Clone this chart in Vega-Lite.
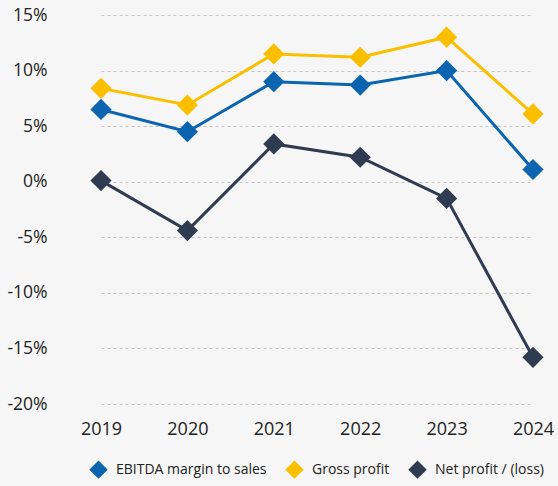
{
  "$schema": "https://vega.github.io/schema/vega-lite/v6.json",
  "width": 500,
  "height": 389,
  "autosize": {"type": "none"},
  "padding": {"left": 58, "top": 15, "right": 0, "bottom": 82},
  "background": "#f6f6f6",
  "config": {
    "view": {"stroke": null},
    "font": "Open Sans",
    "axis": {"labelFont": "Open Sans", "labelColor": "#222222"},
    "legend": {"labelFont": "Open Sans", "labelColor": "#222222"}
  },
  "data": {
    "values": [
      {"year": "2019", "series": "EBITDA margin to sales", "value": 6.5},
      {"year": "2020", "series": "EBITDA margin to sales", "value": 4.5},
      {"year": "2021", "series": "EBITDA margin to sales", "value": 9.0},
      {"year": "2022", "series": "EBITDA margin to sales", "value": 8.7},
      {"year": "2023", "series": "EBITDA margin to sales", "value": 10.0},
      {"year": "2024", "series": "EBITDA margin to sales", "value": 1.1},
      {"year": "2019", "series": "Gross profit", "value": 8.4},
      {"year": "2020", "series": "Gross profit", "value": 6.9},
      {"year": "2021", "series": "Gross profit", "value": 11.5},
      {"year": "2022", "series": "Gross profit", "value": 11.2},
      {"year": "2023", "series": "Gross profit", "value": 13.0},
      {"year": "2024", "series": "Gross profit", "value": 6.1},
      {"year": "2019", "series": "Net profit / (loss)", "value": 0.1},
      {"year": "2020", "series": "Net profit / (loss)", "value": -4.4},
      {"year": "2021", "series": "Net profit / (loss)", "value": 3.4},
      {"year": "2022", "series": "Net profit / (loss)", "value": 2.2},
      {"year": "2023", "series": "Net profit / (loss)", "value": -1.5},
      {"year": "2024", "series": "Net profit / (loss)", "value": -15.8}
    ]
  },
  "encoding": {
    "x": {
      "field": "year",
      "type": "ordinal",
      "scale": {"type": "point", "range": [43, 475], "padding": 0},
      "axis": {
        "title": null,
        "labelAngle": 0,
        "labelFontSize": 18,
        "labelPadding": 16,
        "ticks": false,
        "domain": false,
        "grid": false
      }
    },
    "y": {
      "field": "value",
      "type": "quantitative",
      "scale": {"domain": [-20, 15], "nice": false, "zero": false},
      "axis": {
        "title": null,
        "values": [-20, -15, -10, -5, 0, 5, 10, 15],
        "labelExpr": "datum.value + '%'",
        "labelFontSize": 17.5,
        "labelPadding": 11,
        "ticks": false,
        "domain": false,
        "grid": true,
        "gridColor": "#c4c4c4",
        "gridDash": [3, 3],
        "gridWidth": 1
      }
    },
    "color": {
      "field": "series",
      "type": "nominal",
      "scale": {
        "domain": ["EBITDA margin to sales", "Gross profit", "Net profit / (loss)"],
        "range": ["#0a64b0", "#fbbf00", "#2f3b50"]
      },
      "legend": {
        "title": null,
        "orient": "none",
        "legendX": 31,
        "legendY": 445,
        "direction": "horizontal",
        "symbolType": "diamond",
        "symbolSize": 340,
        "labelFontSize": 14,
        "labelLimit": 300,
        "labelOffset": 8,
        "columnPadding": 18,
        "encode": {
          "symbols": {
            "update": {
              "fill": {"scale": "color", "field": "value"},
              "strokeWidth": {"value": 0}
            }
          }
        }
      }
    }
  },
  "layer": [
    {"mark": {"type": "line", "strokeWidth": 3}},
    {"mark": {"type": "point", "shape": "diamond", "size": 450, "filled": true, "opacity": 1}}
  ]
}
